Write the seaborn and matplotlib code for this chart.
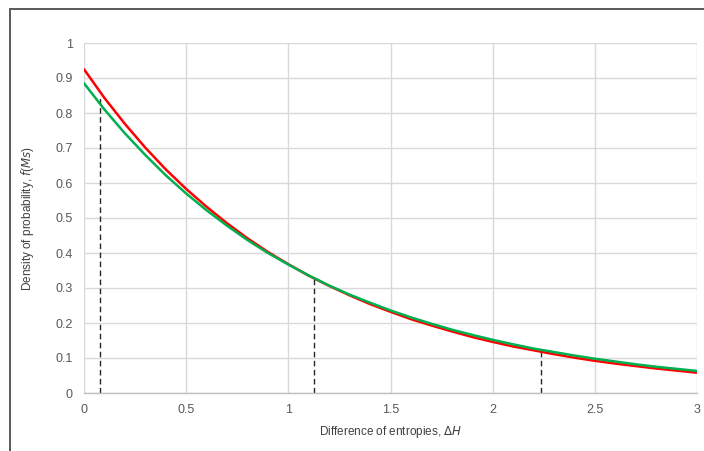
import numpy as np
import pandas as pd
import seaborn as sns
import matplotlib
matplotlib.use("Agg")
import matplotlib.pyplot as plt
from matplotlib.lines import Line2D
from matplotlib.ticker import FuncFormatter

# Values
delta_h = [0.0, 0.1, 0.2, 0.3, 0.4, 0.5, 0.6, 0.7, 0.8, 0.9, 1.0,
           1.1, 1.2, 1.3, 1.4, 1.5, 1.6, 1.7, 1.8, 1.9, 2.0,
           2.1, 2.2, 2.3, 2.4, 2.5, 2.6, 2.7, 2.8, 2.9, 3.0]
red_curve = [0.925, 0.843, 0.769, 0.701, 0.639, 0.583, 0.532, 0.485, 0.442, 0.403, 0.368,
             0.335, 0.306, 0.279, 0.254, 0.232, 0.211, 0.193, 0.176, 0.160, 0.146,
             0.133, 0.122, 0.111, 0.101, 0.092, 0.084, 0.077, 0.070, 0.064, 0.058]
green_curve = [0.885, 0.810, 0.742, 0.680, 0.622, 0.570, 0.522, 0.478, 0.437, 0.400, 0.367,
               0.336, 0.307, 0.281, 0.258, 0.236, 0.216, 0.198, 0.181, 0.166, 0.152,
               0.139, 0.127, 0.117, 0.107, 0.098, 0.090, 0.082, 0.075, 0.069, 0.063]
marker_x = [0.08, 1.127, 2.237]
marker_top = [0.85, 0.329, 0.121]

x_ticks = [0, 0.5, 1, 1.5, 2, 2.5, 3]
y_ticks = [0, 0.1, 0.2, 0.3, 0.4, 0.5, 0.6, 0.7, 0.8, 0.9, 1.0]

sns.set_style("white")
plt.rcParams["font.family"] = ["Liberation Sans", "DejaVu Sans"]

df = pd.DataFrame({
    "dH": delta_h * 2,
    "f": red_curve + green_curve,
    "series": ["red"] * len(delta_h) + ["green"] * len(delta_h),
})

fig = plt.figure(figsize=(7.04, 4.51), dpi=100)
ax = fig.add_axes([84 / 704, 1 - 393 / 451, (697 - 84) / 704, (393 - 43) / 451])

for xv, top in zip(marker_x, marker_top):
    ax.plot([xv, xv], [0, top], color="#262626", lw=1.0, ls=(0, (4, 2.5)), zorder=2)

sns.lineplot(data=df, x="dH", y="f", hue="series",
             palette={"red": "#FF0000", "green": "#00B050"},
             hue_order=["red", "green"], lw=1.8, legend=False, ax=ax, zorder=3)

ax.set_xlim(0, 3)
ax.set_ylim(0, 1)
ax.set_xticks(x_ticks)
ax.set_yticks(y_ticks)
fmt = FuncFormatter(lambda v, p: "%g" % round(v, 2))
ax.xaxis.set_major_formatter(fmt)
ax.yaxis.set_major_formatter(fmt)
ax.grid(True, color="#D9D9D9", lw=1.0)
ax.set_axisbelow(True)
for s in ["top", "right", "left"]:
    ax.spines[s].set_visible(False)
ax.spines["bottom"].set_color("#BFBFBF")
ax.spines["bottom"].set_linewidth(1.0)
ax.tick_params(axis="both", length=0, labelsize=9, colors="#595959", pad=8)

ax.set_xlabel("Difference of entropies, $\\Delta H$", fontsize=8.5, color="#404040", labelpad=6)
ax.set_ylabel("Density of probability, $f$($Ms$)", fontsize=8.5, color="#404040", labelpad=14)

# outer chart frame (top and left edges visible)
fig.add_artist(Line2D([10 / 704, 1.0], [1 - 8.5 / 451, 1 - 8.5 / 451],
                      transform=fig.transFigure, color="#595959", lw=1.4))
fig.add_artist(Line2D([10 / 704, 10 / 704], [0.0, 1 - 8.5 / 451],
                      transform=fig.transFigure, color="#595959", lw=1.4))

fig.savefig("out.png", dpi=100)
